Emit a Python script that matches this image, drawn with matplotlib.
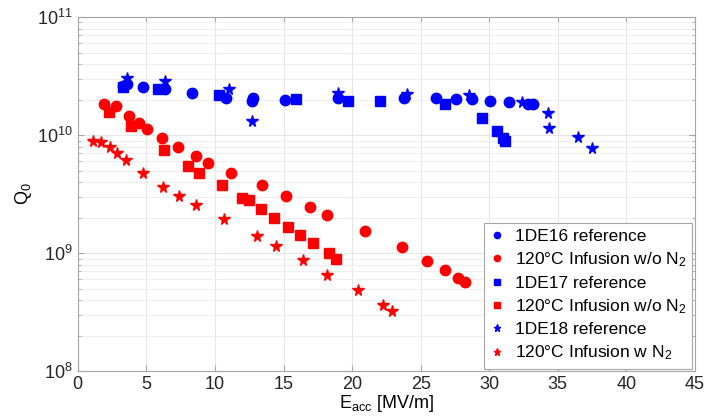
import matplotlib
matplotlib.use("Agg")
import matplotlib.pyplot as plt
from matplotlib.ticker import LogLocator, NullFormatter

plt.rcParams['font.family'] = ['Liberation Sans', 'DejaVu Sans']
plt.rcParams['mathtext.fontset'] = 'custom'
plt.rcParams['mathtext.rm'] = 'Liberation Sans'
plt.rcParams['mathtext.it'] = 'Liberation Sans'
plt.rcParams['mathtext.default'] = 'regular'

# 1DE16 reference (blue circles)
de16_x = [3.28, 3.57, 4.74, 6.36, 8.31, 10.79, 12.75, 12.68, 15.11, 18.99, 23.78, 26.12,
          27.57, 28.72, 30.05, 31.46, 32.84, 33.21]
de16_q = [2.60e10, 2.70e10, 2.56e10, 2.44e10, 2.28e10, 2.05e10, 2.05e10, 1.95e10, 1.98e10,
          2.05e10, 2.07e10, 2.05e10, 2.03e10, 2.01e10, 1.94e10, 1.89e10, 1.82e10, 1.82e10]
# 120C infusion w/o N2 (red circles)
inf1_x = [1.94, 2.77, 3.74, 4.49, 5.07, 6.14, 7.29, 8.62, 9.52, 11.20, 13.40, 15.20, 16.93,
          18.19, 20.92, 23.64, 25.46, 26.75, 27.74, 28.25]
inf1_q = [1.83e10, 1.75e10, 1.46e10, 1.27e10, 1.12e10, 9.38e9, 7.87e9, 6.60e9, 5.79e9, 4.76e9,
          3.75e9, 3.03e9, 2.45e9, 2.09e9, 1.54e9, 1.12e9, 8.61e8, 7.18e8, 6.14e8, 5.65e8]
# 1DE17 reference (blue squares)
de17_x = [3.28, 5.87, 10.30, 15.91, 19.68, 22.03, 26.77, 29.49, 30.58, 30.98, 31.14]
de17_q = [2.55e10, 2.44e10, 2.20e10, 2.01e10, 1.95e10, 1.94e10, 1.82e10, 1.40e10, 1.08e10,
          9.38e9, 8.90e9]
# 120C infusion w/o N2 (red squares)
inf2_x = [2.26, 3.91, 6.31, 8.04, 8.86, 10.50, 11.98, 12.51, 13.38, 14.31, 15.31, 16.20,
          17.13, 18.32, 18.83]
inf2_q = [1.56e10, 1.19e10, 7.41e9, 5.43e9, 4.76e9, 3.75e9, 2.96e9, 2.80e9, 2.35e9, 1.98e9,
          1.68e9, 1.43e9, 1.22e9, 1.00e9, 8.89e8]
# 1DE18 reference (blue stars)
de18_x = [3.62, 6.36, 11.01, 12.68, 18.99, 23.98, 28.54, 32.36, 34.30, 34.37, 36.49, 37.51]
de18_q = [3.03e10, 2.87e10, 2.46e10, 1.32e10, 2.28e10, 2.25e10, 2.20e10, 1.91e10, 1.55e10,
          1.14e10, 9.68e9, 7.80e9]
# 120C infusion w N2 (red stars)
inf3_x = [1.14, 1.68, 2.33, 2.89, 3.54, 4.74, 6.24, 7.38, 8.64, 10.66, 13.10, 14.43, 16.42,
          18.19, 20.43, 22.22, 22.93]
inf3_q = [8.96e9, 8.68e9, 7.87e9, 7.08e9, 6.14e9, 4.73e9, 3.65e9, 3.04e9, 2.54e9, 1.93e9,
          1.41e9, 1.16e9, 8.73e8, 6.55e8, 4.83e8, 3.62e8, 3.26e8]

labels = ['1DE16 reference', '120°C Infusion w/o N$_2$', '1DE17 reference',
          '120°C Infusion w/o N$_2$', '1DE18 reference', '120°C Infusion w N$_2$']

fig = plt.figure(figsize=(7.07, 4.17), dpi=100)
ax = fig.add_axes([0.110, 0.110, 0.873, 0.849])

ax.plot(de16_x, de16_q, 'o', color='#0000ff', ms=7.5, mec='#0000ff', label=labels[0])
ax.plot(inf1_x, inf1_q, 'o', color='#ff0000', ms=7.5, mec='#ff0000', label=labels[1])
ax.plot(de17_x, de17_q, 's', color='#0000ff', ms=6.5, mec='#0000ff', label=labels[2])
ax.plot(inf2_x, inf2_q, 's', color='#ff0000', ms=6.5, mec='#ff0000', label=labels[3])
ax.plot(de18_x, de18_q, '*', color='#0000ff', ms=8.5, mec='#0000ff', label=labels[4])
ax.plot(inf3_x, inf3_q, '*', color='#ff0000', ms=8.5, mec='#ff0000', label=labels[5])

ax.set_yscale('log')
ax.set_xlim(0, 45)
ax.set_ylim(1e8, 1e11)
ax.set_xticks(range(0, 46, 5))
ax.yaxis.set_major_locator(LogLocator(base=10, numticks=10))
ax.yaxis.set_minor_locator(LogLocator(base=10, subs=range(2, 10), numticks=20))
ax.yaxis.set_minor_formatter(NullFormatter())

ax.grid(True, which='major', color='#e6e6e6', lw=0.8)
ax.grid(True, which='minor', axis='y', color='#efefef', lw=0.8)
ax.set_axisbelow(True)

for s in ax.spines.values():
    s.set_color('#a6a6a6')
    s.set_linewidth(0.8)
ax.tick_params(which='both', direction='in', top=True, right=True, colors='#a6a6a6',
               labelcolor='#262626', labelsize=13)
ax.tick_params(which='major', length=4)
ax.tick_params(which='minor', length=2)

ax.set_xlabel('E$_{acc}$ [MV/m]', fontsize=13, labelpad=0)
ax.set_ylabel('Q$_0$', fontsize=13, labelpad=2)

leg = ax.legend(loc='lower right', fontsize=12.5, markerscale=0.6, borderaxespad=0.15,
                handlelength=0.8, handletextpad=0.6, labelspacing=0.37,
                fancybox=False, edgecolor='#a6a6a6', framealpha=1, borderpad=0.35)
leg.get_frame().set_linewidth(0.8)

fig.savefig('out.png', dpi=100)
